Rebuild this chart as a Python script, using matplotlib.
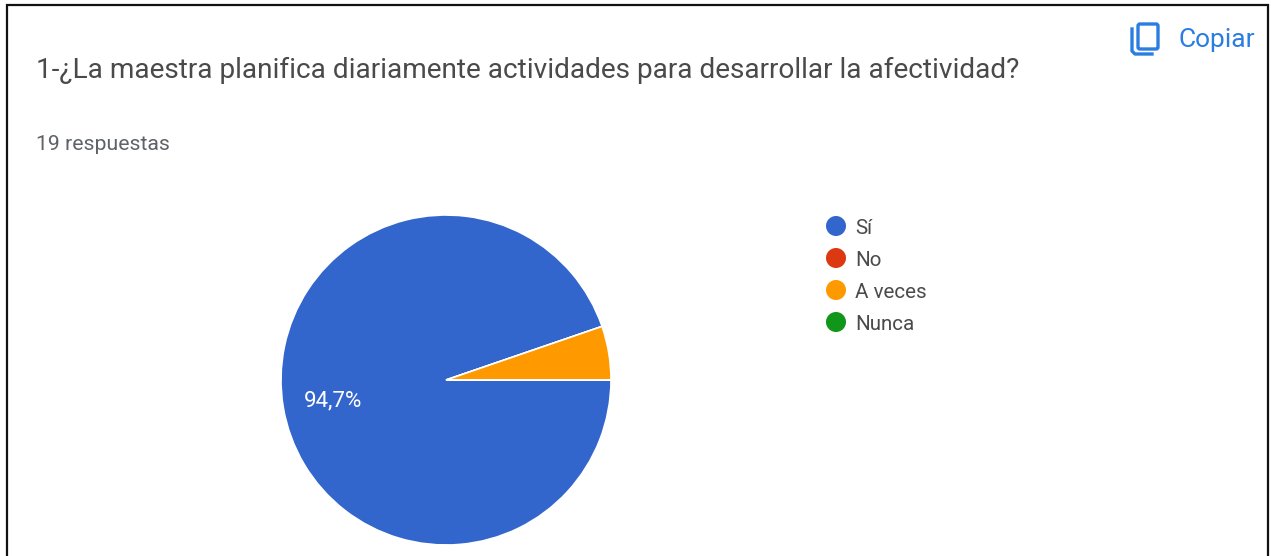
import matplotlib
matplotlib.use("Agg")
import matplotlib.pyplot as plt
from matplotlib.patches import Circle, FancyBboxPatch

categories = ["Sí", "No", "A veces", "Nunca"]
values = [18, 0, 1, 0]
colors = ["#3366cc", "#dc3912", "#ff9900", "#109618"]
title = "1-¿La maestra planifica diariamente actividades para desarrollar la afectividad?"
subtitle = "19 respuestas"
pct_label = "94,7%"

W, H = 1271, 556
plt.rcParams["font.family"] = ["Roboto", "DejaVu Sans"]

fig = plt.figure(figsize=(W / 100, H / 100), dpi=100)

# overlay in pixel coordinates for the card, texts and legend
bg = fig.add_axes([0, 0, 1, 1])
bg.set_xlim(0, W)
bg.set_ylim(H, 0)
bg.axis("off")

# card border (no bottom edge, the screenshot is cut there)
bg.plot([7, 7, 1267.5, 1267.5], [H, 5, 5, H], color="#111111", lw=1.6, solid_joinstyle="miter")

bg.text(36, 70, title, fontsize=20.15, color="#4a4a4a", va="center", ha="left")
bg.text(36, 144, subtitle, fontsize=15.3, color="#5f6368", va="center", ha="left")

# copy button
blue = "#2a7de1"
bg.add_patch(FancyBboxPatch((1138, 24), 20, 25, boxstyle="round,pad=0,rounding_size=2",
                            fc="none", ec=blue, lw=2.4))
bg.plot([1132, 1132, 1135, 1152], [29, 51, 54, 54], color=blue, lw=2.4)
bg.text(1178, 40, "Copiar", fontsize=19, color=blue, va="center", ha="left")

# legend
for i, (cat, col) in enumerate(zip(categories, colors)):
    y = 226 + i * 32
    bg.add_patch(Circle((836, y), 10, fc=col, ec="none"))
    bg.text(855, y + 2, cat, fontsize=14.8, color="#4a4a4a", va="center", ha="left")

# pie, centre (446, 380) radius 165 px
cx, cy, r = 446, 380, 165
ax = fig.add_axes([(cx - r) / W, 1 - (cy + r) / H, 2 * r / W, 2 * r / H])
ax.pie(values, colors=colors, startangle=0, counterclock=False, radius=1,
       wedgeprops={"edgecolor": "white", "linewidth": 1.2})
ax.set_xlim(-1, 1)
ax.set_ylim(-1, 1)

bg.set_zorder(2)
bg.patch.set_visible(False)
bg.text(333, 401, pct_label, fontsize=16, color="white", va="center", ha="center")

fig.savefig("out.png", dpi=100)
